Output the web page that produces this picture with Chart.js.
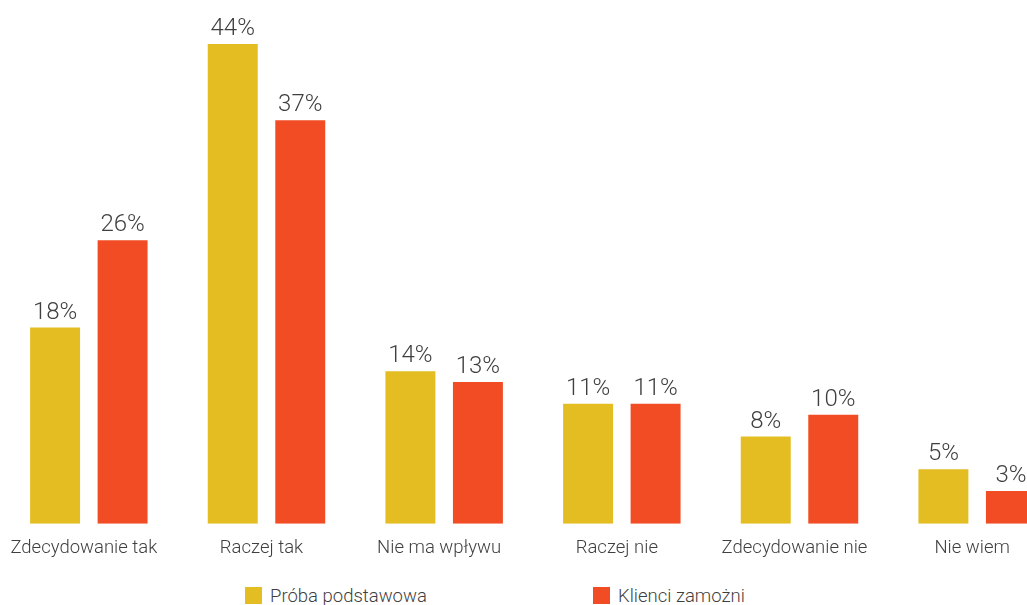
<!DOCTYPE html>
<html>
<head>
<meta charset="utf-8">
<script src="https://cdn.jsdelivr.net/npm/chart.js@4"></script>
<style>
  html, body { margin: 0; padding: 0; background: #fff; overflow: hidden; }
  #wrap { position: relative; width: 1027px; height: 605px; overflow: hidden; }
  #chart { position: absolute; left: 0; top: 0; }
  .legend-item { position: absolute; top: 585px; font: 300 18.5px Roboto, sans-serif; color: #3f3f3f; white-space: nowrap; }
  .legend-item span { display: inline-block; width: 17px; height: 17px; vertical-align: -2px; margin-right: 8px; }
</style>
</head>
<body>
<div id="wrap">
  <canvas id="chart" width="1066" height="580"></canvas>
  <div class="legend-item" style="left:245px"><span style="background:#E3BD21"></span>Próba podstawowa</div>
  <div class="legend-item" style="left:593px"><span style="background:#F24C24"></span>Klienci zamożni</div>
</div>
<script>
// answers and shares per group
const categories = ['Zdecydowanie tak', 'Raczej tak', 'Nie ma wpływu', 'Raczej nie', 'Zdecydowanie nie', 'Nie wiem'];
const baseSample = [18, 44, 14, 11, 8, 5];
const affluentClients = [26, 37, 13, 11, 10, 3];
const seriesNames = ['Próba podstawowa', 'Klienci zamożni'];

const YELLOW = '#E3BD21';
const RED = '#F24C24';

// percentage labels above each bar
const valueLabels = {
  id: 'valueLabels',
  afterDatasetsDraw(chart) {
    const ctx = chart.ctx;
    ctx.save();
    ctx.font = '300 24px Roboto, sans-serif';
    ctx.fillStyle = '#3f3f3f';
    ctx.textAlign = 'center';
    ctx.textBaseline = 'alphabetic';
    chart.data.datasets.forEach((ds, i) => {
      chart.getDatasetMeta(i).data.forEach((bar, j) => {
        ctx.fillText(ds.data[j] + '%', bar.x, bar.y - 9);
      });
    });
    ctx.restore();
  }
};

new Chart(document.getElementById('chart'), {
  type: 'bar',
  data: {
    labels: categories,
    datasets: [
      { label: seriesNames[0], data: baseSample, backgroundColor: YELLOW },
      { label: seriesNames[1], data: affluentClients, backgroundColor: RED }
    ]
  },
  options: {
    responsive: false,
    animation: false,
    devicePixelRatio: 1,
    categoryPercentage: 0.76,
    barPercentage: 0.74,
    layout: { padding: { top: 44, bottom: 8, left: 0, right: 0 } },
    plugins: {
      legend: { display: false },
      tooltip: { enabled: false }
    },
    scales: {
      x: {
        grid: { display: false, drawTicks: false },
        border: { display: false },
        ticks: {
          color: '#3f3f3f',
          font: { family: 'Roboto', size: 18.5, weight: 300 },
          padding: 13,
          labelOffset: -5,
          maxRotation: 0
        }
      },
      y: {
        display: false,
        min: 0,
        max: 44
      }
    }
  },
  plugins: [valueLabels]
});
</script>
</body>
</html>
